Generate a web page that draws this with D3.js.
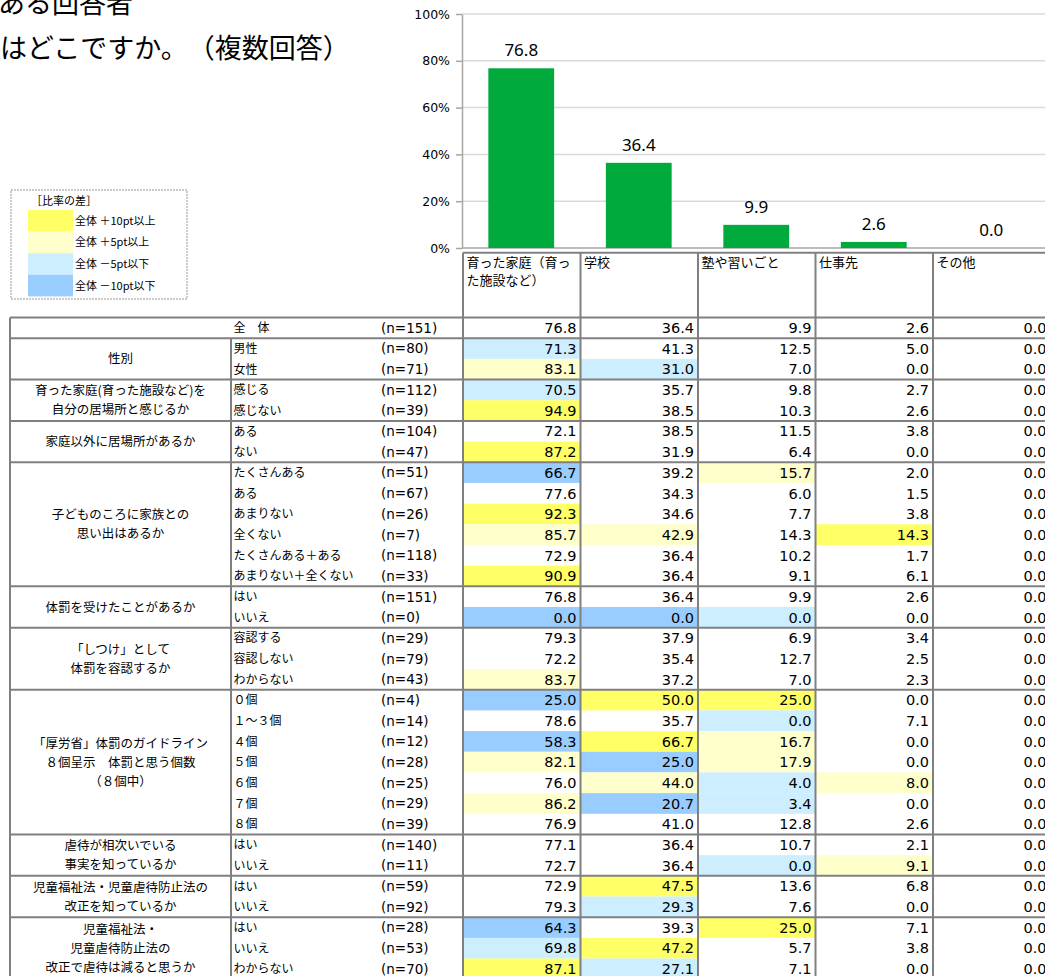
<!DOCTYPE html>
<html>
<head>
<meta charset="utf-8">
<script src="https://cdn.jsdelivr.net/npm/d3@7"></script>
<style>
  body { margin: 0; background: #fff; }
  svg { display: block; }
</style>
</head>
<body>
<svg id="chart" width="1045" height="976"></svg>
<script>
// --- data ---
const categories = ["育った家庭（育った施設など）", "学校", "塾や習いごと", "仕事先", "その他"];
const headerLines = [["育った家庭（育っ", "た施設など）"], ["学校"], ["塾や習いごと"], ["仕事先"], ["その他"]];
const totalValues = [76.8, 36.4, 9.9, 2.6, 0.0];
const yTicks = [0, 20, 40, 60, 80, 100];

const titleLines = ["ある回答者", "はどこですか。　（複数回答）"];

const legendTitle = "［比率の差］";
const legendLabels = ["全体 ＋10pt以上", "全体 ＋5pt以上", "全体 －5pt以下", "全体 －10pt以下"];
const legendColors = ["#ffff66", "#ffffcc", "#cceeff", "#99ccff"];

const groupLabels = [
  [],
  ["性別"],
  ["育った家庭(育った施設など)を", "自分の居場所と感じるか"],
  ["家庭以外に居場所があるか"],
  ["子どものころに家族との", "思い出はあるか"],
  ["体罰を受けたことがあるか"],
  ["「しつけ」として", "体罰を容認するか"],
  ["「厚労省」体罰のガイドライン", "８個呈示　体罰と思う個数", "（８個中）"],
  ["虐待が相次いでいる", "事実を知っているか"],
  ["児童福祉法・児童虐待防止法の", "改正を知っているか"],
  ["児童福祉法・", "児童虐待防止法の", "改正で虐待は減ると思うか"]
];
const groupSizes = [1, 2, 2, 2, 6, 2, 3, 7, 2, 2, 3];

const rowLabels = [
  "全　体",
  "男性", "女性",
  "感じる", "感じない",
  "ある", "ない",
  "たくさんある", "ある", "あまりない", "全くない", "たくさんある＋ある", "あまりない＋全くない",
  "はい", "いいえ",
  "容認する", "容認しない", "わからない",
  "０個", "１～３個", "４個", "５個", "６個", "７個", "８個",
  "はい", "いいえ",
  "はい", "いいえ",
  "はい", "いいえ", "わからない"
];
const rowN = [151, 80, 71, 112, 39, 104, 47, 51, 67, 26, 7, 118, 33, 151, 0, 29, 79, 43,
  4, 14, 12, 28, 25, 29, 39, 140, 11, 59, 92, 28, 53, 70];
const rowValues = [
  [76.8, 36.4, 9.9, 2.6, 0.0],
  [71.3, 41.3, 12.5, 5.0, 0.0],
  [83.1, 31.0, 7.0, 0.0, 0.0],
  [70.5, 35.7, 9.8, 2.7, 0.0],
  [94.9, 38.5, 10.3, 2.6, 0.0],
  [72.1, 38.5, 11.5, 3.8, 0.0],
  [87.2, 31.9, 6.4, 0.0, 0.0],
  [66.7, 39.2, 15.7, 2.0, 0.0],
  [77.6, 34.3, 6.0, 1.5, 0.0],
  [92.3, 34.6, 7.7, 3.8, 0.0],
  [85.7, 42.9, 14.3, 14.3, 0.0],
  [72.9, 36.4, 10.2, 1.7, 0.0],
  [90.9, 36.4, 9.1, 6.1, 0.0],
  [76.8, 36.4, 9.9, 2.6, 0.0],
  [0.0, 0.0, 0.0, 0.0, 0.0],
  [79.3, 37.9, 6.9, 3.4, 0.0],
  [72.2, 35.4, 12.7, 2.5, 0.0],
  [83.7, 37.2, 7.0, 2.3, 0.0],
  [25.0, 50.0, 25.0, 0.0, 0.0],
  [78.6, 35.7, 0.0, 7.1, 0.0],
  [58.3, 66.7, 16.7, 0.0, 0.0],
  [82.1, 25.0, 17.9, 0.0, 0.0],
  [76.0, 44.0, 4.0, 8.0, 0.0],
  [86.2, 20.7, 3.4, 0.0, 0.0],
  [76.9, 41.0, 12.8, 2.6, 0.0],
  [77.1, 36.4, 10.7, 2.1, 0.0],
  [72.7, 36.4, 0.0, 9.1, 0.0],
  [72.9, 47.5, 13.6, 6.8, 0.0],
  [79.3, 29.3, 7.6, 0.0, 0.0],
  [64.3, 39.3, 25.0, 7.1, 0.0],
  [69.8, 47.2, 5.7, 3.8, 0.0],
  [87.1, 27.1, 7.1, 0.0, 0.0]
];

const jpFont = "'Noto Sans CJK JP', sans-serif";
const numFont = "'DejaVu Sans', sans-serif";
const gridColor = "#808080";

// colour of a cell from its difference with the total row
function shade(v, base) {
  const d = v - base;
  if (d >= 10) return legendColors[0];
  if (d >= 5) return legendColors[1];
  if (d <= -10) return legendColors[3];
  if (d <= -5) return legendColors[2];
  return null;
}

const svg = d3.select("#chart");

// title (top line is cut off like the slide)
svg.append("g").selectAll("text")
  .data(titleLines)
  .enter().append("text")
  .attr("x", (d, i) => i === 0 ? -2 : 0)
  .attr("y", (d, i) => 13 + i * 45)
  .attr("font-family", jpFont)
  .attr("font-size", "27px")
  .attr("fill", "#000")
  .text(d => d);

// bar chart
const x = d3.scaleBand().domain(d3.range(categories.length)).range([462.5, 1050])
  .paddingInner(0.44).paddingOuter(0.22);
const y = d3.scaleLinear().domain([0, 100]).range([248, 14]);

svg.append("g").selectAll("line")
  .data(yTicks)
  .enter().append("line")
  .attr("x1", 462).attr("x2", 1045)
  .attr("y1", d => y(d)).attr("y2", d => y(d))
  .attr("stroke", d => d === 0 ? "#a6a6a6" : "#d9d9d9")
  .attr("stroke-width", 1.5);

svg.append("g").selectAll("rect")
  .data(totalValues)
  .enter().append("rect")
  .attr("x", (d, i) => x(i))
  .attr("y", d => y(d))
  .attr("width", x.bandwidth())
  .attr("height", d => y(0) - y(d))
  .attr("fill", "#00aa3c");

svg.append("g").selectAll("text")
  .data(totalValues)
  .enter().append("text")
  .attr("x", (d, i) => x(i) + x.bandwidth() / 2)
  .attr("y", d => y(d) - 12)
  .attr("text-anchor", "middle")
  .attr("font-family", "'Noto Sans', sans-serif")
  .attr("font-size", "17px")
  .attr("fill", "#000")
  .text(d => d.toFixed(1));

const yAxis = svg.append("g")
  .attr("transform", "translate(462,0)")
  .call(d3.axisLeft(y).tickValues(yTicks).tickFormat(d => d + "%")
    .tickSize(6).tickSizeOuter(0).tickPadding(6));
yAxis.select(".domain").attr("stroke", "#a6a6a6").attr("stroke-width", 1.5);
yAxis.selectAll(".tick line").attr("stroke", "#a6a6a6").attr("stroke-width", 1.5);
yAxis.selectAll(".tick text")
  .attr("font-family", numFont)
  .attr("font-size", "12.5px")
  .attr("fill", "#000");

// legend
const legend = svg.append("g");
legend.append("rect")
  .attr("x", 11).attr("y", 190)
  .attr("width", 176).attr("height", 109)
  .attr("fill", "none")
  .attr("stroke", "#999")
  .attr("stroke-dasharray", "2,1");
legend.append("text")
  .attr("x", 31).attr("y", 201.5)
  .attr("dy", "0.36em")
  .attr("font-family", jpFont)
  .attr("font-size", "11px")
  .text(legendTitle);
const legendItem = legend.selectAll("g.item")
  .data(legendLabels)
  .enter().append("g")
  .attr("class", "item")
  .attr("transform", (d, i) => `translate(28,${210 + i * 21.6})`);
legendItem.append("rect")
  .attr("width", 45).attr("height", 21.6)
  .attr("fill", (d, i) => legendColors[i]);
legendItem.append("text")
  .attr("x", 47).attr("y", 10.8)
  .attr("dy", "0.36em")
  .attr("font-family", jpFont)
  .attr("font-size", "11px")
  .text(d => d);

// table
const xCol = d3.scaleBand().domain(d3.range(categories.length)).range([463, 1050.5]);
const tableTop = 317.5, rowH = 20.68;
const yRow = d3.scaleBand().domain(d3.range(rowLabels.length))
  .range([tableTop, tableTop + rowLabels.length * rowH]);
const tableBottom = tableTop + rowLabels.length * rowH;
const groupStarts = [0, ...d3.cumsum(groupSizes)];
const baseRow = rowValues[0];

// shaded cells
const cells = [];
rowValues.forEach((vals, r) => vals.forEach((v, c) => cells.push({ r, c, v, fill: shade(v, baseRow[c]) })));

svg.append("g").selectAll("rect")
  .data(cells.filter(d => d.fill))
  .enter().append("rect")
  .attr("x", d => xCol(d.c))
  .attr("y", d => yRow(d.r))
  .attr("width", xCol.bandwidth())
  .attr("height", yRow.bandwidth())
  .attr("fill", d => d.fill);

// header cells
const header = svg.append("g");
header.append("line")
  .attr("x1", 463).attr("x2", 1045)
  .attr("y1", 252.7).attr("y2", 252.7)
  .attr("stroke", gridColor).attr("stroke-width", 2);
headerLines.forEach((lines, i) => {
  header.selectAll(null)
    .data(lines)
    .enter().append("text")
    .attr("x", xCol(i) + 3.5)
    .attr("y", (d, k) => 262.3 + k * 17.8)
    .attr("dy", "0.36em")
    .attr("font-family", jpFont)
    .attr("font-size", "13px")
    .text(d => d);
});

// grid lines
const lines = svg.append("g").attr("stroke", gridColor).attr("stroke-width", 2);
lines.selectAll("line.h")
  .data(groupStarts)
  .enter().append("line")
  .attr("class", "h")
  .attr("x1", 10).attr("x2", 1045)
  .attr("y1", d => d < rowLabels.length ? yRow(d) : tableBottom)
  .attr("y2", d => d < rowLabels.length ? yRow(d) : tableBottom);
lines.append("line")
  .attr("x1", 10).attr("x2", 10)
  .attr("y1", tableTop).attr("y2", tableBottom);
lines.append("line")
  .attr("x1", 231).attr("x2", 231)
  .attr("y1", yRow(1)).attr("y2", tableBottom);
lines.selectAll("line.v")
  .data(d3.range(categories.length + 1))
  .enter().append("line")
  .attr("class", "v")
  .attr("x1", d => 463 + d * xCol.step())
  .attr("x2", d => 463 + d * xCol.step())
  .attr("y1", 252.7).attr("y2", tableBottom);

// group labels
groupLabels.forEach((lbl, g) => {
  const cy = (yRow(groupStarts[g]) + yRow(groupStarts[g + 1] - 1) + yRow.bandwidth()) / 2;
  svg.append("g").selectAll("text")
    .data(lbl)
    .enter().append("text")
    .attr("x", 120.5)
    .attr("y", (d, k) => cy + (k - (lbl.length - 1) / 2) * 19)
    .attr("dy", "0.36em")
    .attr("text-anchor", "middle")
    .attr("font-family", jpFont)
    .attr("font-size", "12.5px")
    .text(d => d);
});

// row labels and n
svg.append("g").selectAll("text")
  .data(rowLabels)
  .enter().append("text")
  .attr("x", 233.5)
  .attr("y", (d, i) => yRow(i) + yRow.bandwidth() / 2)
  .attr("dy", "0.36em")
  .attr("font-family", jpFont)
  .attr("font-size", "12px")
  .text(d => d);

svg.append("g").selectAll("text")
  .data(rowN)
  .enter().append("text")
  .attr("x", 381)
  .attr("y", (d, i) => yRow(i) + yRow.bandwidth() / 2)
  .attr("dy", "0.36em")
  .attr("font-family", numFont)
  .attr("font-size", "13.5px")
  .text(d => `(n=${d})`);

// values
svg.append("g").selectAll("text")
  .data(cells)
  .enter().append("text")
  .attr("x", d => xCol(d.c) + xCol.bandwidth() - 4)
  .attr("y", d => yRow(d.r) + yRow.bandwidth() / 2)
  .attr("dy", "0.36em")
  .attr("text-anchor", "end")
  .attr("font-family", numFont)
  .attr("font-size", "14.5px")
  .attr("fill", "#000")
  .text(d => d.v.toFixed(1));
</script>
</body>
</html>
